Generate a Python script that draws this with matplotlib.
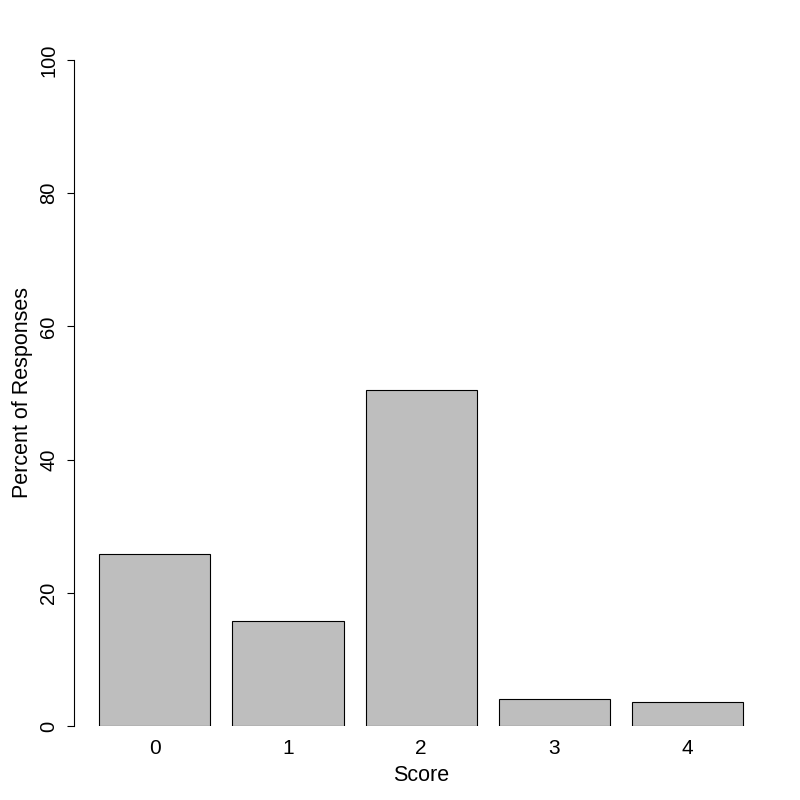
import numpy as np
import matplotlib.pyplot as plt

plt.rcParams['font.family'] = ['Liberation Sans', 'DejaVu Sans']

scores = ['0', '1', '2', '3', '4']
percents = [25.8, 15.7, 50.5, 4.0, 3.65]
yticks = [0, 20, 40, 60, 80, 100]

fig = plt.figure(figsize=(8, 8), dpi=100)
# plot region in pixels: x 73.5..769, y 60..726 (0..100)
ax = fig.add_axes([73.5 / 800, 74 / 800, (769 - 73.5) / 800, 666 / 800])

x = 0.2 + 1.2 * np.arange(len(scores)) + 0.5
ax.bar(x, percents, width=1.0, color='#BEBEBE', edgecolor='black', linewidth=0.8)

ax.set_xlim(-0.032, 6.232)
ax.set_ylim(0, 100)

for s in ['top', 'right', 'bottom']:
    ax.spines[s].set_visible(False)
ax.spines['left'].set_bounds(0, 100)
ax.spines['left'].set_linewidth(0.8)

ax.set_xticks(x)
ax.set_xticklabels(scores, fontsize=15)
ax.tick_params(axis='x', length=0, pad=9)

ax.set_yticks(yticks)
ax.set_yticklabels([str(v) for v in yticks], fontsize=14.5, rotation=90, va='center')
ax.tick_params(axis='y', length=5, width=0.8, pad=6)

ax.set_xlabel('Score', fontsize=15.5, labelpad=5.5)
ax.set_ylabel('Percent of Responses', fontsize=15.5, labelpad=4.5)

fig.savefig('out.png', dpi=100)
